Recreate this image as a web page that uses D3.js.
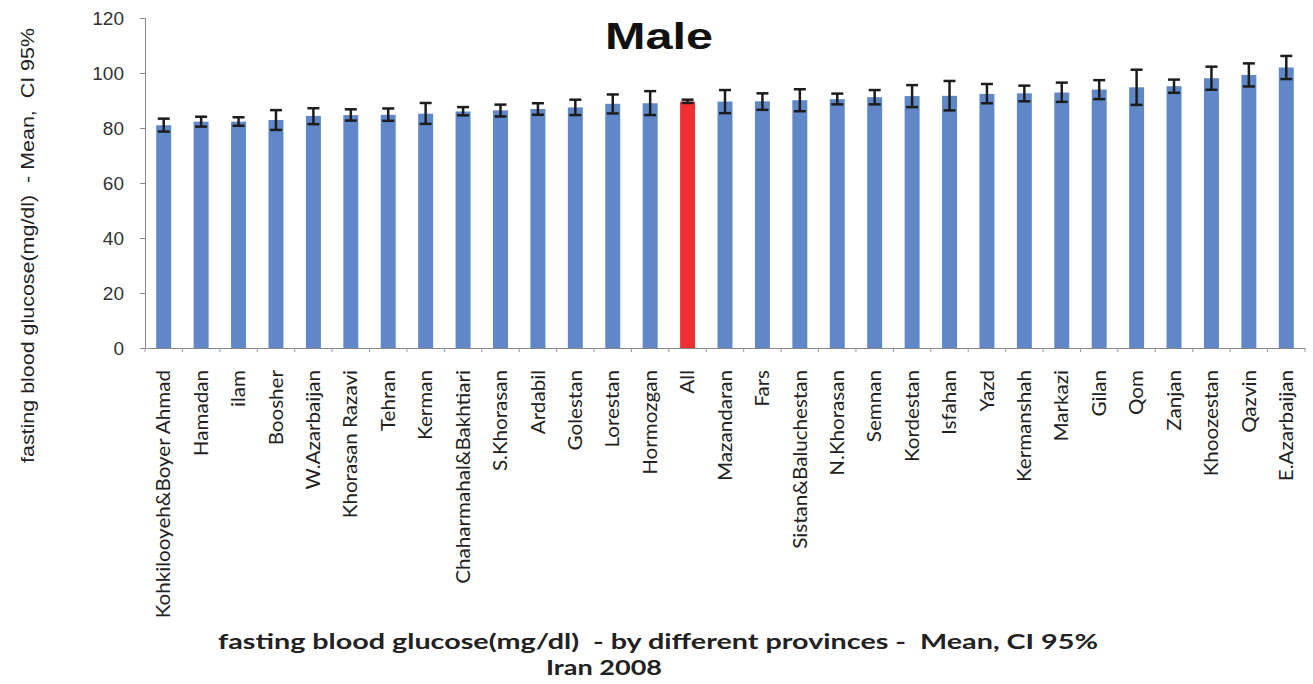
<!DOCTYPE html>
<html lang="en">
<head>
<meta charset="UTF-8">
<title>Male - fasting blood glucose</title>
<script src="https://d3js.org/d3.v7.min.js"></script>
<style>
  body { margin: 0; background: #fff; }
</style>
</head>
<body>
<div id="chart"></div>
<script>
// provinces, sorted by mean
const provinces = [
    "Kohkilooyeh&Boyer Ahmad", "Hamadan", "ilam", "Boosher", "W.Azarbaijan", "Khorasan Razavi",
    "Tehran", "Kerman", "Chaharmahal&Bakhtiari", "S.Khorasan", "Ardabil", "Golestan", "Lorestan",
    "Hormozgan", "All", "Mazandaran", "Fars", "Sistan&Baluchestan", "N.Khorasan", "Semnan",
    "Kordestan", "Isfahan", "Yazd", "Kermanshah", "Markazi", "Gilan", "Qom", "Zanjan",
    "Khoozestan", "Qazvin", "E.Azarbaijan"
];
const means = [
    81.0, 82.3, 82.3, 82.9, 84.4, 84.7, 84.8, 85.2, 86.0, 86.4, 86.9, 87.5, 88.8,
    89.0, 89.6, 89.6, 89.7, 90.1, 90.5, 91.2, 91.6, 91.7, 92.4, 92.6, 92.9, 94.0,
    94.8, 95.2, 98.1, 99.3, 102.0
];
const ciLow = [
    78.7, 80.5, 80.8, 79.3, 81.4, 82.7, 82.6, 81.5, 84.6, 84.2, 84.8, 84.7, 85.3,
    84.7, 89.1, 85.4, 86.6, 86.1, 88.6, 88.6, 87.6, 86.4, 89.0, 89.7, 89.5, 90.5,
    88.4, 92.8, 93.9, 95.1, 97.8
];
const ciHigh = [
    83.4, 84.1, 83.9, 86.5, 87.2, 86.8, 87.1, 89.1, 87.6, 88.5, 89.0, 90.3, 92.2,
    93.4, 90.3, 93.8, 92.6, 94.1, 92.5, 93.8, 95.6, 97.1, 96.0, 95.4, 96.5, 97.4,
    101.2, 97.6, 102.3, 103.5, 106.2
];
const yTicks = [0, 20, 40, 60, 80, 100, 120];

const width = 1313, height = 684;
const margin = { left: 145, right: 8, top: 18, bottom: 336 };
const plotW = width - margin.left - margin.right;
const plotH = height - margin.top - margin.bottom;

const svg = d3.select("#chart").append("svg")
    .attr("width", width)
    .attr("height", height);

const g = svg.append("g")
    .attr("transform", `translate(${margin.left},${margin.top})`);

const x = d3.scaleBand()
    .domain(provinces)
    .range([0, plotW])
    .paddingInner(0.6)
    .paddingOuter(0.3);

const y = d3.scaleLinear()
    .domain([0, 120])
    .range([plotH, 0]);

// y axis
const yAxis = g.append("g")
    .call(d3.axisLeft(y).tickValues(yTicks).tickSize(5).tickPadding(16));
yAxis.select(".domain").attr("stroke", "#888");
yAxis.selectAll(".tick line").attr("stroke", "#888");
yAxis.selectAll("text")
    .attr("font-family", "Liberation Sans, Arial, sans-serif")
    .attr("font-size", 19)
    .attr("fill", "#333");

// bars
const rows = provinces.map((p, i) => ({ name: p, mean: means[i], lo: ciLow[i], hi: ciHigh[i] }));

g.selectAll("rect.bar")
    .data(rows)
    .join("rect")
    .attr("class", "bar")
    .attr("x", d => x(d.name))
    .attr("width", x.bandwidth())
    .attr("y", d => y(d.mean))
    .attr("height", d => plotH - y(d.mean))
    .attr("fill", d => d.name === "All" ? "#ee3034" : "#6088c8");

// error bars
const err = g.selectAll("g.err")
    .data(rows)
    .join("g")
    .attr("class", "err")
    .attr("stroke", "#1c1c1c")
    .attr("stroke-width", 2.5);
const cx = d => x(d.name) + x.bandwidth() / 2;
const cap = 6;
err.append("line")
    .attr("x1", cx).attr("x2", cx)
    .attr("y1", d => y(d.lo)).attr("y2", d => y(d.hi));
err.append("line")
    .attr("x1", d => cx(d) - cap).attr("x2", d => cx(d) + cap)
    .attr("y1", d => y(d.hi)).attr("y2", d => y(d.hi));
err.append("line")
    .attr("x1", d => cx(d) - cap).attr("x2", d => cx(d) + cap)
    .attr("y1", d => y(d.lo)).attr("y2", d => y(d.lo));

// x axis
const xAxis = g.append("g")
    .attr("transform", `translate(0,${plotH})`)
    .call(d3.axisBottom(x).tickSize(0).tickPadding(10));
xAxis.select(".domain").attr("stroke", "#888");
xAxis.selectAll("text")
    .attr("font-family", "Lato, sans-serif")
    .attr("font-size", 19)
    .attr("fill", "#222")
    .attr("text-anchor", "end")
    .attr("dy", "0.35em")
    .attr("transform", "translate(0,22) rotate(-90) scale(1.085,1)")
    .attr("x", 0).attr("y", 0);

// little tick marks between categories
const step = x.step();
g.append("g").selectAll("line")
    .data(d3.range(provinces.length + 1))
    .join("line")
    .attr("x1", i => x(provinces[0]) - step * x.paddingInner() / 2 + i * step)
    .attr("x2", i => x(provinces[0]) - step * x.paddingInner() / 2 + i * step)
    .attr("y1", plotH).attr("y2", plotH + 4)
    .attr("stroke", "#999");

// titles
svg.append("text")
    .attr("x", 605).attr("y", 49)
    .attr("font-family", "Liberation Sans, Arial, sans-serif")
    .attr("font-weight", "bold")
    .attr("font-size", 36)
    .attr("fill", "#111")
    .attr("textLength", 108)
    .attr("lengthAdjust", "spacingAndGlyphs")
    .text("Male");

svg.append("text")
    .attr("transform", "translate(34,463) rotate(-90)")
    .attr("font-family", "Liberation Sans, Arial, sans-serif")
    .attr("font-size", 19)
    .attr("fill", "#222")
    .attr("xml:space", "preserve")
    .attr("textLength", 435)
    .attr("lengthAdjust", "spacingAndGlyphs")
    .text("fasting blood glucose(mg/dl)  - Mean,  CI 95%");

svg.append("text")
    .attr("x", 218).attr("y", 649)
    .attr("font-family", "Lato, sans-serif")
    .attr("font-weight", "bold")
    .attr("font-size", 21)
    .attr("fill", "#222")
    .attr("xml:space", "preserve")
    .attr("textLength", 880)
    .attr("lengthAdjust", "spacingAndGlyphs")
    .text("fasting blood glucose(mg/dl)  - by different provinces -  Mean, CI 95%");

svg.append("text")
    .attr("x", 546).attr("y", 675)
    .attr("font-family", "Lato, sans-serif")
    .attr("font-weight", "bold")
    .attr("font-size", 21)
    .attr("fill", "#222")
    .attr("textLength", 116)
    .attr("lengthAdjust", "spacingAndGlyphs")
    .text("Iran 2008");
</script>
</body>
</html>
